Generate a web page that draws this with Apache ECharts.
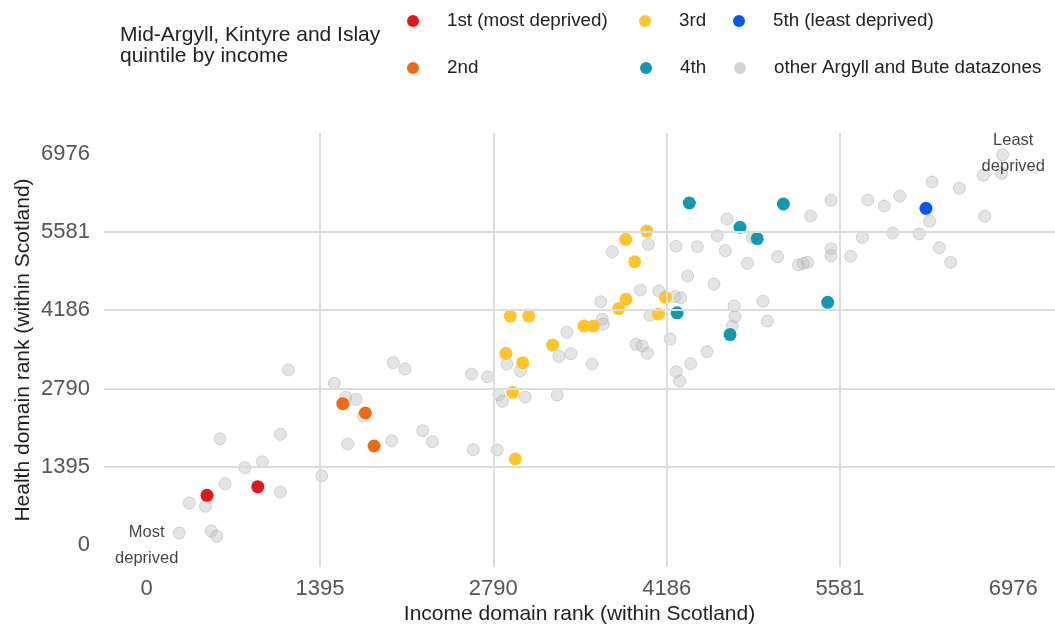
<!DOCTYPE html>
<html>
<head>
<meta charset="utf-8">
<script src="https://cdn.jsdelivr.net/npm/echarts@6/dist/echarts.min.js"></script>
<style>html,body{margin:0;padding:0;background:#fff}#c{width:1055px;height:628px}</style>
</head>
<body>
<div id="c"></div>
<script>
// ---- data (income rank, health rank) ----
const q1 = [[485,885],[894,1039]];
const q2 = [[1578,2518],[1760,2352],[1830,1764]];
const q3 = [[4025,5595],[3856,5448],[3928,5048],[3858,4378],[3799,4211],[4175,4413],[4119,4116],[2927,4081],[3075,4081],[3520,3903],[3595,3903],[3268,3564],[2892,3416],[3027,3249],[2946,2721],[2967,1533]];
const q4 = [[4368,6095],[5125,6077],[4776,5662],[4915,5459],[5482,4325],[4270,4137],[4696,3750]];
const q5 = [[6273,6000]];
const others = [
[1140,3119],[1985,3249],[2079,3136],[1510,2881],[1602,2632],[1685,2596],[1744,2299],[590,1894],[1076,1972],[1618,1800],[1972,1859],[2222,2037],[2299,1841],[931,1484],[789,1378],[630,1092],[1076,944],[1409,1235],[343,748],[472,689],[263,214],[520,249],[563,155],
[2615,3047],[2744,2999],[2834,2673],[2863,2561],[3048,2637],[3305,2673],[2629,1698],[2822,1693],[2900,3225],[3007,3101],[3319,3362],[3415,3409],[3585,3225],[3383,3790],[3667,4022],[3675,3938],[3655,4336],[3748,5227],[3939,3576],[3990,3546],[4030,3416],[4054,4093],[3974,4544],[4122,4526],[4038,5358],[4213,3671],[4263,3088],[4291,2922],[4379,3231],[4510,3445],[4255,4425],[4299,4407],[4261,5323],[4433,5316],[4355,4794],[4567,4651],[4658,5245],[4594,5510],[4671,5809],[4728,4259],[4736,4068],[4714,3903],[4961,4343],[4996,3992],
[4835,5020],[5080,5137],[5246,4990],[5286,5020],[5321,5038],[5345,5863],[5509,6143],[5509,5280],[5509,5155],[5667,5144],[5761,5483],[5804,6148],[5938,6041],[6062,6219],[6005,5560],[6219,5542],[6303,5769],[6322,6469],[6381,5298],[6472,5038],[6542,6357],[6735,6588],[6746,5857],[6891,6955],[6883,6624],[4875,5483]
];
const seriesNames = ['1st (most deprived)','2nd','3rd','4th','5th (least deprived)','other Argyll and Bute datazones'];
const xTicks = [0,1395,2790,4186,5581,6976];
const yTicks = [0,1395,2790,4186,5581,6976];
const annotations = [{name:'Most\ndeprived', value:[0,0]},{name:'Least\ndeprived', value:[6976,6976]}];
const legendTitle = 'Mid-Argyll, Kintyre and Islay\nquintile by income';
const xTitle = 'Income domain rank (within Scotland)';
const yTitle = 'Health domain rank (within Scotland)';

// ---- styling ----
const FONT = 'Liberation Sans, Arial, Helvetica, sans-serif';
const colors = ['#E0181C','#EE6A14','#FFC42A','#1199B2','#0757F4','#d4d4d4'];
const legendPos = [
  {left:407, top:10},{left:407, top:57},{left:639, top:10},{left:640, top:57},{left:733, top:10},{left:734, top:57}
];

const chart = echarts.init(document.getElementById('c'), null, {renderer:'canvas'});

const legends = seriesNames.map((n,i)=>({
  left: legendPos[i].left, top: legendPos[i].top, padding:0,
  icon:'circle', itemWidth:58, itemHeight:12, symbolKeepAspect:true,
  selectedMode:false,
  data:[{name:n, itemStyle:{color:colors[i], opacity:1, borderWidth:0}}],
  textStyle:{fontFamily:FONT, fontSize:18.8, color:'#222', lineHeight:22}
}));

const colored = [q1,q2,q3,q4,q5];
const plain = v => String(v);

const option = {
  backgroundColor:'#fff',
  animation:false,
  title:{
    text: legendTitle, left:120, top:25, padding:0,
    textStyle:{fontFamily:FONT, fontSize:21, fontWeight:'normal', color:'#222', lineHeight:21}
  },
  legend: legends,
  grid:{left:104, right:0, top:133, bottom:61, containLabel:false, outerBoundsMode:'none'},
  xAxis:{
    type:'value', min:-344, max:7312,
    name:xTitle, nameLocation:'middle', nameGap:37, nameMoveOverlap:false,
    nameTextStyle:{fontFamily:FONT, fontSize:21, color:'#1f1f1f', lineHeight:21},
    axisLine:{show:false}, axisTick:{show:false}, splitLine:{show:false},
    axisLabel:{customValues:xTicks, formatter:plain, margin:11, fontFamily:FONT, fontSize:22, color:'#555', lineHeight:22}
  },
  yAxis:{
    type:'value', min:-392, max:7342,
    name:yTitle, nameLocation:'middle', nameGap:70, nameRotate:90, nameMoveOverlap:false,
    nameTextStyle:{fontFamily:FONT, fontSize:21, color:'#1f1f1f', lineHeight:21},
    axisLine:{show:false}, axisTick:{show:false}, splitLine:{show:false},
    axisLabel:{customValues:yTicks, formatter:plain, margin:14, fontFamily:FONT, fontSize:22, color:'#555'}
  },
  series:[
    {
      type:'scatter', data:[], z:1, silent:true,
      markLine:{
        silent:true, symbol:'none', animation:false,
        label:{show:false},
        lineStyle:{color:'#dcdcdc', width:2, type:'solid'},
        data: xTicks.slice(1,-1).map(v=>({xAxis:v})).concat(yTicks.slice(1,-1).map(v=>({yAxis:v})))
      }
    },
    {
      name: seriesNames[5], type:'scatter', data: others, z:2,
      symbolSize:12,
      itemStyle:{color:'rgba(188,188,188,0.5)', borderColor:'rgba(150,150,150,0.45)', borderWidth:1}
    }
  ].concat(colored.map((d,i)=>({
      name: seriesNames[i], type:'scatter', data:d, z:3,
      symbolSize:13, itemStyle:{color:colors[i], opacity:1}
  }))).concat([{
      type:'scatter', data: annotations, z:4, symbolSize:0, silent:true,
      label:{show:true, position:'inside', formatter:p=>p.name,
        fontFamily:FONT, fontSize:16.5, lineHeight:26, color:'#111', align:'center'}
  }])
};
chart.setOption(option);
</script>
</body>
</html>
